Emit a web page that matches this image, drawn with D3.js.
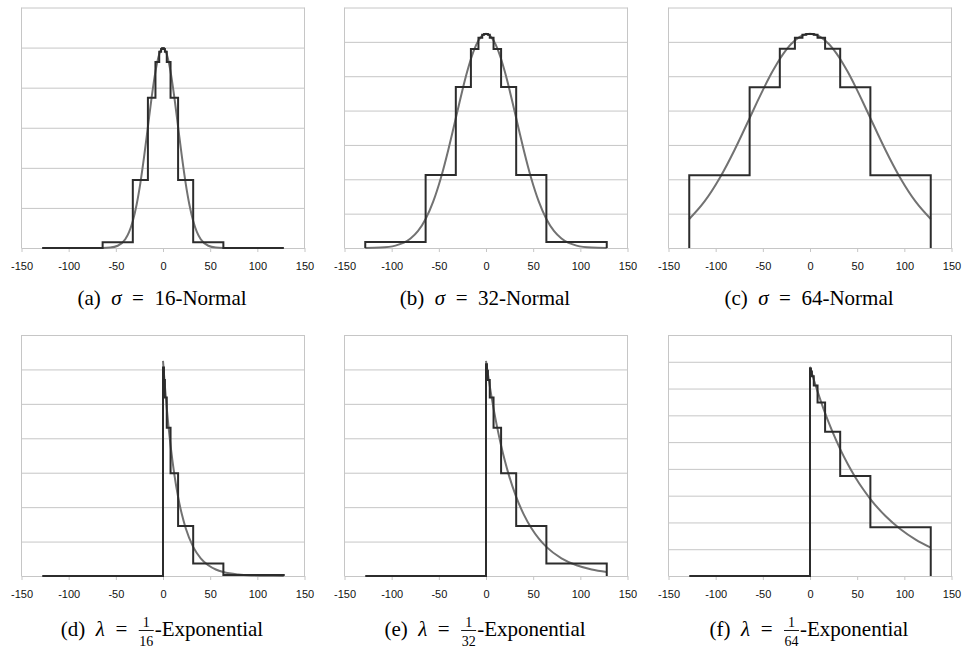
<!DOCTYPE html>
<html>
<head>
<meta charset="utf-8">
<script src="https://cdn.jsdelivr.net/npm/d3@7"></script>
<style>
body { margin: 0; background: #fff; }
.grid line { stroke: #c6c6c6; stroke-width: 1; }
.x-axis .domain, .x-axis line { stroke: #c6c6c6; }
.x-axis text { font-family: "Liberation Sans", Arial, sans-serif; font-size: 11px; fill: #111; }
.caption { font-family: "Liberation Serif", "Times New Roman", serif; font-size: 21px; fill: #000; }
</style>
</head>
<body>
<svg id="fig" width="962" height="653"></svg>
<script>
// bucket edges shared by all histograms
const edges = [-128, -64, -32, -16, -8, -4, -2, -1, 0, 1, 2, 4, 8, 16, 32, 64, 128];
const xTicks = [-150, -100, -50, 0, 50, 100, 150];

// sample positions of the density curves
const normalX = [-128, -112, -96, -80, -72, -64, -56, -48, -40, -36, -32, -28, -24, -20, -16, -12, -8, -4, 0,
  4, 8, 12, 16, 20, 24, 28, 32, 36, 40, 48, 56, 64, 72, 80, 96, 112, 128];
const expX = [0, 2, 4, 8, 12, 16, 20, 24, 32, 40, 48, 56, 64, 80, 96, 112, 128];

// density curves
const normal16 = [0, 0, 0, 0, 0, 0.000008, 0.000055, 0.000277, 0.001096, 0.001984, 0.003375, 0.005392, 0.008095,
  0.011415, 0.015123, 0.018821, 0.022004, 0.024167, 0.024934, 0.024167, 0.022004, 0.018821, 0.015123, 0.011415,
  0.008095, 0.005392, 0.003375, 0.001984, 0.001096, 0.000277, 0.000055, 0.000008, 0, 0, 0, 0, 0];
const normal32 = [0.000004, 0.000027, 0.000138, 0.000548, 0.000992, 0.001687, 0.002696, 0.004047, 0.005708,
  0.006621, 0.007562, 0.008502, 0.009411, 0.010255, 0.011002, 0.011621, 0.012084, 0.012370, 0.012467, 0.012370,
  0.012084, 0.011621, 0.011002, 0.010255, 0.009411, 0.008502, 0.007562, 0.006621, 0.005708, 0.004047, 0.002696,
  0.001687, 0.000992, 0.000548, 0.000138, 0.000027, 0.000004];
const normal64 = [0.000844, 0.001348, 0.002024, 0.002854, 0.003311, 0.003781, 0.004251, 0.004705, 0.005128,
  0.005321, 0.005501, 0.005665, 0.005810, 0.005936, 0.006042, 0.006125, 0.006185, 0.006221, 0.006234, 0.006221,
  0.006185, 0.006125, 0.006042, 0.005936, 0.005810, 0.005665, 0.005501, 0.005321, 0.005128, 0.004705, 0.004251,
  0.003781, 0.003311, 0.002854, 0.002024, 0.001348, 0.000844];
const exp16 = [0.0625, 0.055156, 0.048675, 0.037908, 0.029523, 0.022992, 0.017906, 0.013946, 0.008458, 0.005130,
  0.003112, 0.001887, 0.001145, 0.000421, 0.000155, 0.000057, 0.000021];
const exp32 = [0.03125, 0.029357, 0.027578, 0.024338, 0.021478, 0.018954, 0.016727, 0.014762, 0.011496, 0.008953,
  0.006973, 0.005430, 0.004229, 0.002565, 0.001556, 0.000944, 0.000572];
const exp64 = [0.015625, 0.015144, 0.014678, 0.013789, 0.012954, 0.012169, 0.011431, 0.010739, 0.009477, 0.008363,
  0.007381, 0.006513, 0.005748, 0.004477, 0.003486, 0.002715, 0.002115];

// histogram heights, one per bucket
const histNormal16 = [0, 0.00071, 0.00849, 0.01873, 0.02319, 0.02449, 0.02482, 0.02492,
  0.02492, 0.02482, 0.02449, 0.02319, 0.01873, 0.00849, 0.00071, 0];
const histNormal32 = [0.000355, 0.00425, 0.00937, 0.01159, 0.01224, 0.01241, 0.01246, 0.01246,
  0.01246, 0.01246, 0.01241, 0.01224, 0.01159, 0.00937, 0.00425, 0.000355];
const histNormal64 = [0.00212, 0.00468, 0.00580, 0.00612, 0.00621, 0.00623, 0.00623, 0.00623,
  0.00623, 0.00623, 0.00623, 0.00621, 0.00612, 0.00580, 0.00468, 0.00212];
const histExp16 = [0, 0, 0, 0, 0, 0, 0, 0, 0.06059, 0.05691, 0.05185, 0.04307, 0.02983, 0.01453, 0.003657, 0.000281];
const histExp32 = [0, 0, 0, 0, 0, 0, 0, 0, 0.03077, 0.02982, 0.02846, 0.02593, 0.02153, 0.01492, 0.00727, 0.001828];
const histExp64 = [0, 0, 0, 0, 0, 0, 0, 0, 0.01550, 0.01527, 0.01491, 0.01423, 0.01296, 0.01077, 0.00746, 0.003633];

// y extent and gridline step of each panel
const yMaxes = [0.03, 0.014, 0.007, 0.07, 0.035, 0.018];
const ySteps = [0.005, 0.002, 0.001, 0.01, 0.005, 0.002];

// caption parts
const captionLetters = ['a', 'b', 'c', 'd', 'e', 'f'];
const captionSymbols = ['σ', 'σ', 'σ', 'λ', 'λ', 'λ'];
const captionValues = ['16', '32', '64', '16', '32', '64'];
const captionNames = ['Normal', 'Normal', 'Normal', 'Exponential', 'Exponential', 'Exponential'];

const panels = [
  {hist: histNormal16, cx: normalX, cy: normal16},
  {hist: histNormal32, cx: normalX, cy: normal32},
  {hist: histNormal64, cx: normalX, cy: normal64},
  {hist: histExp16, cx: expX, cy: exp16, frac: true},
  {hist: histExp32, cx: expX, cy: exp32, frac: true},
  {hist: histExp64, cx: expX, cy: exp64, frac: true}
];

// layout
const colLeft = [21.5, 344.5, 668.5];
const plotW = 283;
const rowTop = [7.5, 335];
const rowBottom = [248, 576];
const captionBase = [305, 636];

const svg = d3.select('#fig');

panels.forEach((p, i) => {
  const col = i % 3, row = Math.floor(i / 3);
  const h = rowBottom[row] - rowTop[row];
  const g = svg.append('g')
    .attr('transform', `translate(${colLeft[col]},${rowTop[row]})`);

  const x = d3.scaleLinear().domain([-150, 150]).range([0, plotW]);
  const y = d3.scaleLinear().domain([0, yMaxes[i]]).range([h, 0]);

  // horizontal gridlines
  const yTicks = d3.range(0, Math.round(yMaxes[i] / ySteps[i]) + 1).map(k => k * ySteps[i]);
  g.append('g')
    .attr('class', 'grid')
    .call(d3.axisLeft(y).tickValues(yTicks).tickSize(-plotW).tickFormat(''))
    .call(a => a.select('.domain').remove());

  // side borders
  g.selectAll('.border')
    .data([0, plotW])
    .join('line')
    .attr('class', 'border')
    .attr('x1', d => d).attr('x2', d => d)
    .attr('y1', 0).attr('y2', h)
    .attr('stroke', '#c6c6c6');

  g.append('g')
    .attr('class', 'x-axis')
    .attr('transform', `translate(0,${h})`)
    .call(d3.axisBottom(x).tickValues(xTicks).tickSize(4).tickSizeOuter(0).tickPadding(10)
      .tickFormat(d => String(d)));

  // density curve
  const curvePts = p.cx.map((v, k) => [v, p.cy[k]]);
  g.append('path')
    .datum(curvePts)
    .attr('fill', 'none')
    .attr('stroke', '#727272')
    .attr('stroke-width', 2)
    .attr('d', d3.line().x(d => x(d[0])).y(d => y(d[1])).curve(d3.curveMonotoneX));

  // step histogram
  const histPts = [[edges[0], 0]];
  p.hist.forEach((v, k) => {
    histPts.push([edges[k], v], [edges[k + 1], v]);
  });
  histPts.push([edges[edges.length - 1], 0]);
  g.append('path')
    .datum(histPts)
    .attr('fill', 'none')
    .attr('stroke', '#2c2c2c')
    .attr('stroke-width', 2)
    .attr('stroke-linejoin', 'miter')
    .attr('d', d3.line().x(d => x(d[0])).y(d => y(d[1])));

  // caption
  const base = captionBase[row];
  const cap = svg.append('g').attr('class', 'caption');
  const left = cap.append('text').attr('y', base);
  left.append('tspan').text(`(${captionLetters[i]})\u2002`);
  left.append('tspan').attr('font-style', 'italic').text(captionSymbols[i]);
  left.append('tspan').text('\u2002=\u2002');
  let cursor = left.node().getComputedTextLength();
  if (p.frac) {
    cursor += 1;
    const fr = cap.append('g').attr('font-size', 14);
    const num = fr.append('text').attr('y', base - 9).attr('text-anchor', 'middle').text('1');
    const den = fr.append('text').attr('y', base + 9.5).attr('text-anchor', 'middle').text(captionValues[i]);
    const fw = Math.max(num.node().getComputedTextLength(), den.node().getComputedTextLength()) + 1;
    num.attr('x', cursor + fw / 2);
    den.attr('x', cursor + fw / 2);
    fr.append('line')
      .attr('x1', cursor).attr('x2', cursor + fw)
      .attr('y1', base - 5.5).attr('y2', base - 5.5)
      .attr('stroke', '#000').attr('stroke-width', 0.9);
    cursor += fw + 1;
    const right = cap.append('text').attr('x', cursor).attr('y', base).text('-' + captionNames[i]);
    cursor += right.node().getComputedTextLength();
  } else {
    const right = cap.append('text').attr('x', cursor).attr('y', base)
      .text(captionValues[i] + '-' + captionNames[i]);
    cursor += right.node().getComputedTextLength();
  }
  const center = colLeft[col] + plotW / 2 - 1;
  cap.attr('transform', `translate(${center - cursor / 2},0)`);
});
</script>
</body>
</html>
